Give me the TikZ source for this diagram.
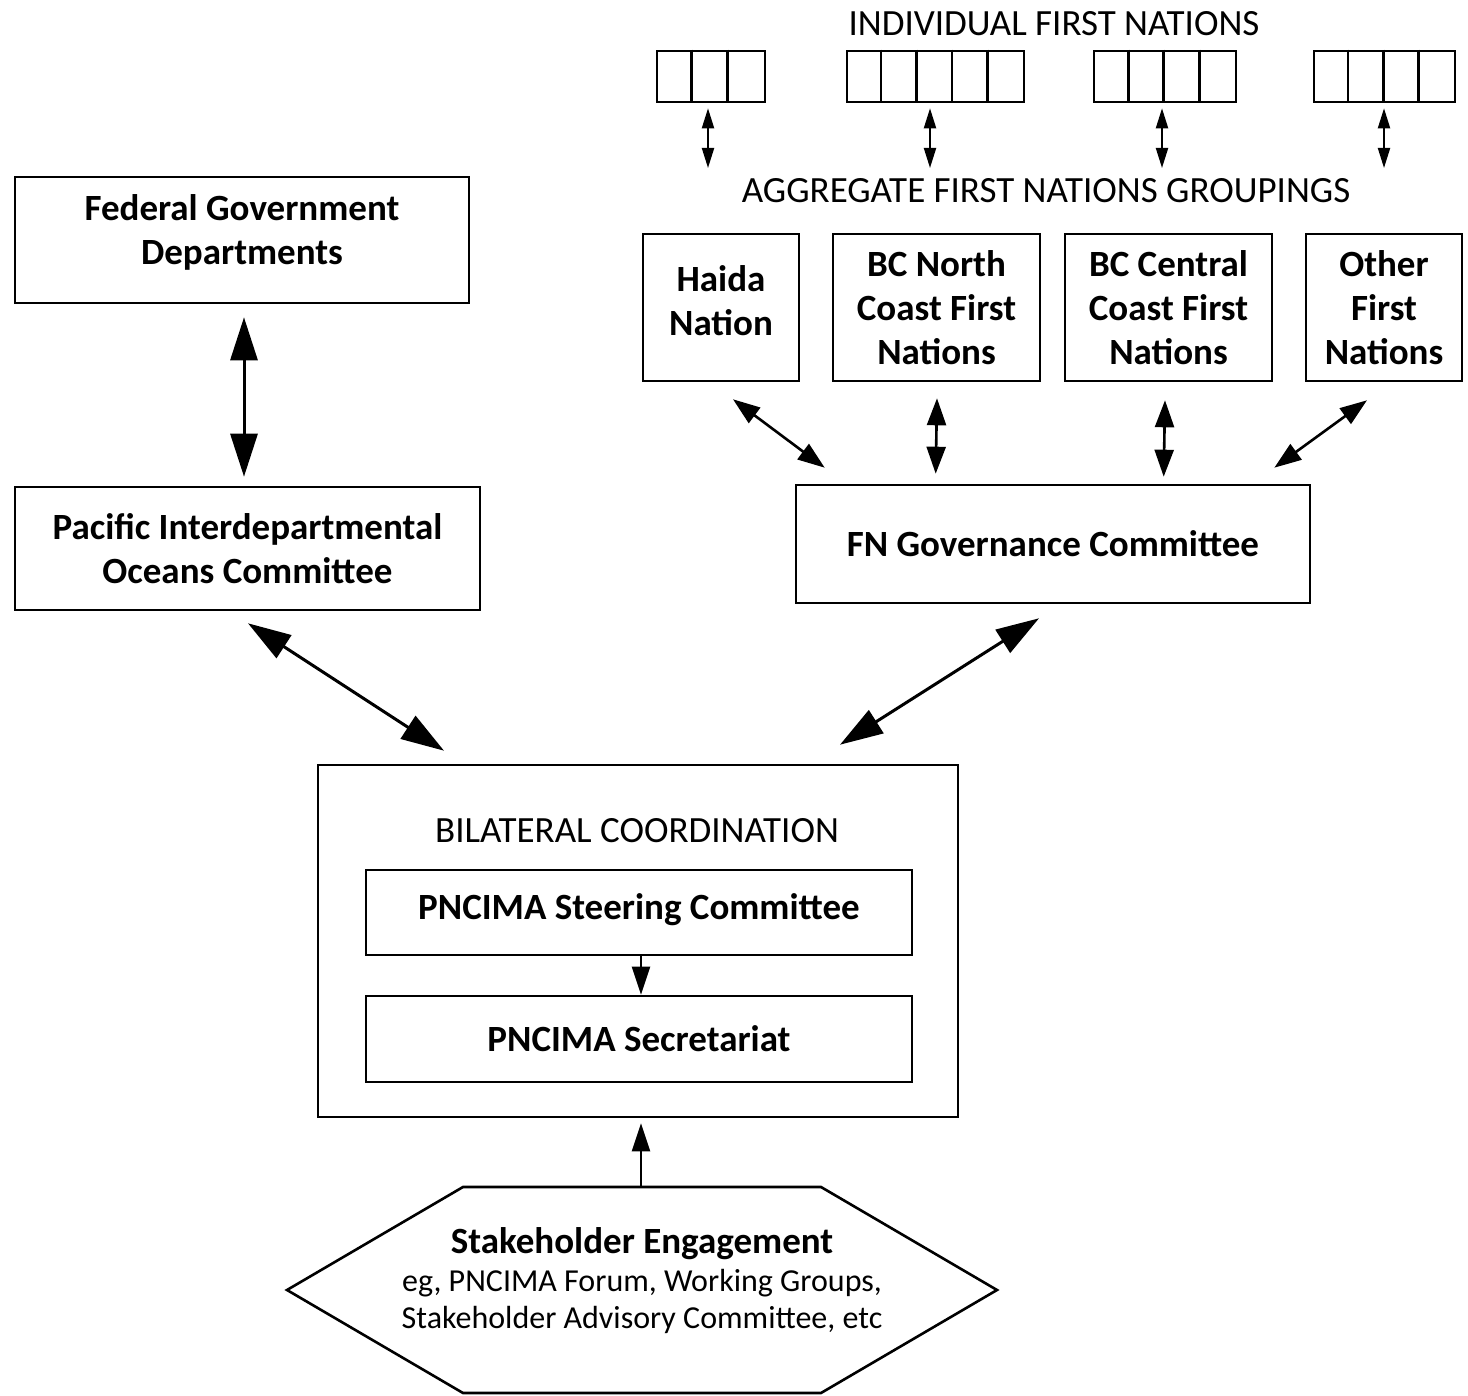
\documentclass[tikz,border=0pt]{standalone}
\usepackage{fontspec}
\setmainfont{Carlito}
\usetikzlibrary{arrows.meta}
\begin{document}
\begin{tikzpicture}[x=1pt,y=-1pt,
  box/.style={draw, line width=2.6pt, inner sep=0pt, align=center, font=\bfseries\fontsize{37}{44}\selectfont},
  cellbox/.style={draw, line width=2.6pt, inner sep=0pt, minimum height=51pt},
  lbl/.style={font=\fontsize{37}{44}\selectfont, anchor=base, inner sep=0pt},
  bigarrow/.style={line width=3pt, {Triangle[length=43pt,width=27pt]}-{Triangle[length=43pt,width=27pt]}},
  medarrow/.style={line width=2.6pt, {Triangle[length=27pt,width=19pt]}-{Triangle[length=27pt,width=19pt]}},
  smallarrow/.style={line width=2pt, {Triangle[length=20pt,width=12pt]}-{Triangle[length=20pt,width=12pt]}},
  onearrow/.style={line width=2.2pt, -{Triangle[length=28pt,width=18pt]}}
]
\useasboundingbox[fill=white] (0,0) rectangle (1468,1396);

% top labels
\node[lbl] (indiv) at (1054,36) {INDIVIDUAL FIRST NATIONS};
\node[lbl] (aggr) at (1046,203) {AGGREGATE FIRST NATIONS GROUPINGS};

% individual first nations groups
\node[cellbox, minimum width=108pt] (g1) at (711,76.5) {};
\node[cellbox, minimum width=177pt] (g2) at (935.5,76.5) {};
\node[cellbox, minimum width=142pt] (g3) at (1165,76.5) {};
\node[cellbox, minimum width=141pt] (g4) at (1384.5,76.5) {};
\foreach \i in {1,2} \draw[line width=2.6pt] ([xshift=\i*36pt]g1.north west) -- ([xshift=\i*36pt]g1.south west);
\foreach \i in {1,...,4} \draw[line width=2.6pt] ([xshift=\i*35.4pt]g2.north west) -- ([xshift=\i*35.4pt]g2.south west);
\foreach \i in {1,...,3} \draw[line width=2.6pt] ([xshift=\i*35.5pt]g3.north west) -- ([xshift=\i*35.5pt]g3.south west);
\foreach \i in {1,...,3} \draw[line width=2.6pt] ([xshift=\i*35.25pt]g4.north west) -- ([xshift=\i*35.25pt]g4.south west);

\coordinate (e1) at (708,168);
\coordinate (e2) at (930,168);
\coordinate (e3) at (1162,168);
\coordinate (e4) at (1384,168);
\draw[smallarrow] ([xshift=-3pt,yshift=-5pt]g1.south) -- (e1);
\draw[smallarrow] ([xshift=-5.5pt,yshift=-5pt]g2.south) -- (e2);
\draw[smallarrow] ([xshift=-3pt,yshift=-5pt]g3.south) -- (e3);
\draw[smallarrow] ([xshift=-0.5pt,yshift=-5pt]g4.south) -- (e4);

% aggregate boxes
\node[box, minimum width=156pt, minimum height=147pt, text depth=14pt] (haida) at (721,307.5) {Haida\\Nation};
\node[box, minimum width=207pt, minimum height=147pt] (bcn) at (936.5,307.5) {BC North\\Coast First\\Nations};
\node[box, minimum width=207pt, minimum height=147pt] (bcc) at (1168.5,307.5) {BC Central\\Coast First\\Nations};
\node[box, minimum width=156pt, minimum height=147pt] (other) at (1384,307.5) {Other\\First\\Nations};

% FN governance
\node[box, minimum width=514pt, minimum height=118pt] (fng) at (1053,544) {FN Governance Committee};

% federal side
\node[box, minimum width=454pt, minimum height=126pt, text depth=20pt] (fed) at (242,240) {Federal Government\\Departments};
\node[box, minimum width=465pt, minimum height=123pt] (pioc) at (247.5,548.5) {Pacific Interdepartmental\\Oceans Committee};

% bilateral
\node[draw, line width=2.6pt, minimum width=640pt, minimum height=352pt, inner sep=0pt] (bil) at (638,941) {};
\node[lbl] (biltxt) at (637,842) {BILATERAL COORDINATION};
\node[box, minimum width=546pt, minimum height=85pt, text depth=12pt] (steer) at (639,912.5) {PNCIMA Steering Committee};
\node[box, minimum width=546pt, minimum height=86pt] (sec) at (639,1039) {PNCIMA Secretariat};

% hexagon
\draw[line width=2.6pt] (463,1187) coordinate (hexa) -- (821,1187) -- (997,1290) -- (821,1393) -- (463,1393) -- (287,1290) -- cycle;
\coordinate (hextop) at (641,1187);
\node[align=center, inner sep=0pt, font=\fontsize{32}{37.5}\selectfont] (hextxt) at (642,1281)
  {{\bfseries\fontsize{37}{37.5}\selectfont Stakeholder Engagement}\\eg, PNCIMA Forum, Working Groups,\\Stakeholder Advisory Committee, etc};

% connectors
\draw[medarrow] ([xshift=12pt,yshift=-17pt]haida.south) -- ([xshift=30pt,yshift=16pt]fng.north west);
\draw[medarrow] ([xshift=0.5pt,yshift=-16pt]bcn.south) -- ([xshift=141pt,yshift=10pt]fng.north west);
\draw[medarrow] ([xshift=-3.5pt,yshift=-18pt]bcc.south) -- ([xshift=369pt,yshift=7pt]fng.north west);
\draw[medarrow] ([xshift=-17pt,yshift=-18pt]other.south) -- ([xshift=-37pt,yshift=16pt]fng.north east);

\draw[bigarrow] ([xshift=2pt,yshift=-13pt]fed.south) -- ([xshift=-3.5pt,yshift=9pt]pioc.north);
\draw[bigarrow] ([xshift=0.5pt,yshift=-12pt]pioc.south) -- ([xshift=-194pt,yshift=13pt]bil.north);
\draw[bigarrow] ([xshift=-14pt,yshift=-14pt]fng.south) -- ([xshift=202pt,yshift=19pt]bil.north);

\draw[onearrow] ([xshift=2pt]steer.south) -- ([xshift=2pt]sec.north);
\draw[onearrow] (hextop) -- ([xshift=3pt,yshift=-5pt]bil.south);
\end{tikzpicture}
\end{document}
